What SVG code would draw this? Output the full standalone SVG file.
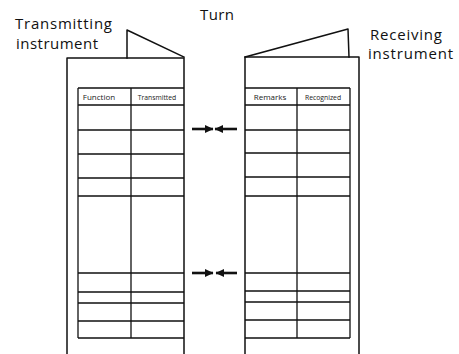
<svg xmlns="http://www.w3.org/2000/svg" width="459" height="354" viewBox="0 0 459 354">
  <style>
    .frame { fill: none; stroke: #111; stroke-width: 1.5; stroke-linejoin: round; stroke-linecap: square; }
    .grid { fill: none; stroke: #111; stroke-width: 1.3; }
    .label { font-family: "Open Sans", "Liberation Sans", sans-serif; font-size: 15px; fill: #111; }
    .head { font-family: "Open Sans", "Liberation Sans", sans-serif; fill: #222; text-anchor: middle; }
    .arrow { fill: none; stroke: #111; stroke-width: 2.6; }
  </style>
  <defs>
    <marker id="head" markerUnits="userSpaceOnUse" markerWidth="9" markerHeight="8" refX="8" refY="4" orient="auto">
      <path d="M0,0 L8.5,4 L0,8 Z" fill="#111"/>
    </marker>
  </defs>

  <rect width="459" height="354" fill="#fff"/>

  <!-- Labels -->
  <g id="labels">
    <text class="label" x="15" y="29" textLength="97" lengthAdjust="spacing">Transmitting</text>
    <text class="label" x="16" y="49" textLength="82" lengthAdjust="spacing">instrument</text>
    <text class="label" x="200" y="20" textLength="34" lengthAdjust="spacing">Turn</text>
    <text class="label" x="370" y="40" textLength="72" lengthAdjust="spacing">Receiving</text>
    <text class="label" x="368" y="59" textLength="85" lengthAdjust="spacing">instrument</text>
  </g>

  <!-- Transmitting instrument -->
  <g id="transmitting-instrument">
    <path class="frame" d="M127,58 L127,30 L184,57"/>
    <path class="frame" d="M67,354 L67,58 L184,58 L184,354"/>
    <g class="grid">
      <path d="M78,88 H184 M78,105 H184 M78,130 H184 M78,154 H184 M78,178 H184 M78,196 H184 M78,273 H184 M78,292 H184 M78,303 H184 M78,321 H184 M78,338 H184"/>
      <path d="M78,88 V338 M131,88 V338"/>
    </g>
    <text class="head" x="99" y="100" font-size="8">Function</text>
    <text class="head" x="157" y="100" font-size="6.8">Transmitted</text>
  </g>

  <!-- Receiving instrument -->
  <g id="receiving-instrument">
    <path class="frame" d="M245,57 L348,29 L349,57"/>
    <path class="frame" d="M245,354 L245,57 L359,57 L359,354"/>
    <g class="grid">
      <path d="M245,88 H350 M245,105 H350 M245,130 H350 M245,153 H350 M245,177 H350 M245,196 H350 M245,273 H350 M245,291 H350 M245,302 H350 M245,320 H350 M245,338 H350"/>
      <path d="M350,88 V338 M297,88 V338"/>
    </g>
    <text class="head" x="270" y="100" font-size="8">Remarks</text>
    <text class="head" x="323" y="100" font-size="6.8">Recognized</text>
  </g>

  <!-- Connectors -->
  <g id="connectors">
    <line class="arrow" x1="192" y1="129" x2="213" y2="129" marker-end="url(#head)"/>
    <line class="arrow" x1="237" y1="129" x2="215" y2="129" marker-end="url(#head)"/>
    <line class="arrow" x1="192" y1="273" x2="213" y2="273" marker-end="url(#head)"/>
    <line class="arrow" x1="237" y1="273" x2="216" y2="273" marker-end="url(#head)"/>
  </g>
</svg>
